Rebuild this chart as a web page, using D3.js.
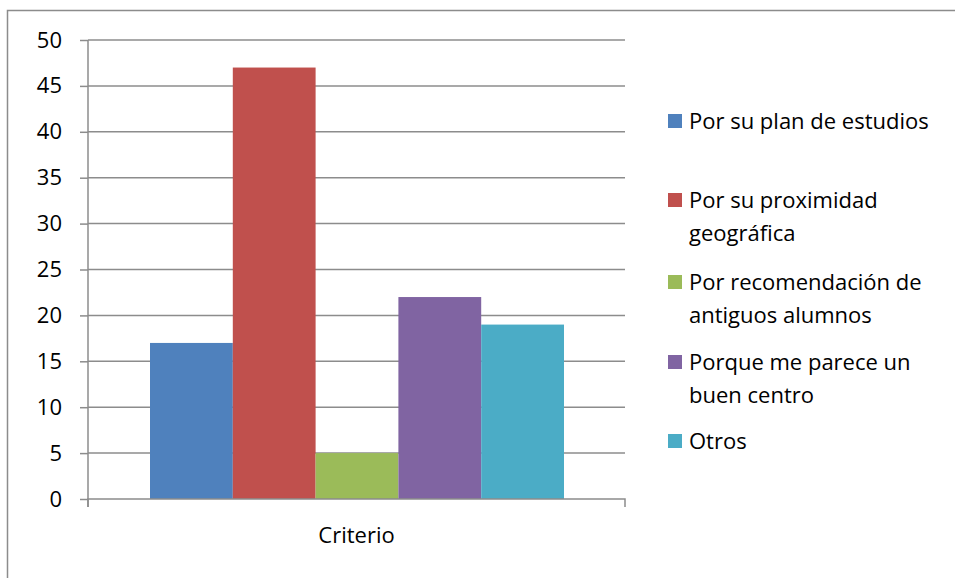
<!DOCTYPE html>
<html>
<head>
<meta charset="utf-8">
<script src="https://cdn.jsdelivr.net/npm/d3@7"></script>
<style>
  body { margin: 0; background: #fff; }
  text { font-family: "Open Sans", "Noto Sans", sans-serif; fill: #000; }
</style>
</head>
<body>
<div id="vis-container"></div>
<script>
// data
let categories = ["Por su plan de estudios", "Por su proximidad geográfica",
  "Por recomendación de antiguos alumnos", "Porque me parece un buen centro", "Otros"];
let values = [17, 47, 5, 22, 19];
let legendLines = [["Por su plan de estudios"], ["Por su proximidad", "geográfica"],
  ["Por recomendación de", "antiguos alumnos"], ["Porque me parece un", "buen centro"], ["Otros"]];
let colors = ["#4f81bd", "#c0504d", "#9bbb59", "#8064a2", "#4bacc6"];
let yTicks = [0, 5, 10, 15, 20, 25, 30, 35, 40, 45, 50];
let groupLabel = ["Criterio"];

let w = 955;
let h = 578;

let svg = d3.select("#vis-container")
  .append("svg")
  .attr("width", w)
  .attr("height", h);

// outer frame
svg.append("rect")
  .attr("x", 7.5).attr("y", 10.5)
  .attr("width", 960).attr("height", 600)
  .attr("fill", "none")
  .attr("stroke", "#8c8c8c")
  .attr("stroke-width", 1.5);

let plotL = 88, plotR = 625, plotT = 40, plotB = 499;

let y = d3.scaleLinear()
  .domain([0, 50])
  .range([plotB, plotT]);

let x0 = d3.scaleBand()
  .domain(groupLabel)
  .range([plotL, plotR]);

let x = d3.scaleBand()
  .domain(categories)
  .range([x0("Criterio") + 62, x0("Criterio") + x0.bandwidth() - 61])
  .padding(0);

// gridlines
svg.selectAll(".grid")
  .data(yTicks.filter(d => d > 0))
  .enter()
  .append("line")
  .attr("x1", plotL).attr("x2", plotR)
  .attr("y1", d => y(d)).attr("y2", d => y(d))
  .attr("stroke", "#8c8c8c")
  .attr("stroke-width", 1.5);

// bars
svg.selectAll(".bar")
  .data(values)
  .enter()
  .append("rect")
  .attr("x", (d, i) => x(categories[i]))
  .attr("y", d => y(d))
  .attr("width", x.bandwidth())
  .attr("height", d => plotB - y(d))
  .attr("fill", (d, i) => colors[i]);

// y axis
let yAxis = svg.append("g")
  .attr("transform", `translate(${plotL},0)`)
  .call(d3.axisLeft(y).tickValues(yTicks).tickSize(8).tickPadding(18));
yAxis.selectAll("line, path").attr("stroke", "#8c8c8c").attr("stroke-width", 1.5);
yAxis.select("path").attr("d", `M0,${plotT}V${plotB + 8}`);
yAxis.selectAll("text")
  .style("font-family", "'Open Sans', sans-serif")
  .attr("font-size", 22)
  .attr("fill", "#000");

// x axis
let xAxis = svg.append("g")
  .attr("transform", `translate(0,${plotB})`)
  .call(d3.axisBottom(x0).tickSize(0).tickPadding(28));
xAxis.select("path").attr("d", `M${plotL},8V0H${plotR}V8`)
  .attr("stroke", "#8c8c8c").attr("stroke-width", 1.5).attr("fill", "none");
xAxis.selectAll("text")
  .style("font-family", "'Open Sans', sans-serif")
  .attr("font-size", 22)
  .attr("fill", "#000");

// legend
let legendY = [121, 200, 282, 362, 441];
let lg = svg.selectAll(".legend")
  .data(legendLines)
  .enter()
  .append("g")
  .attr("transform", (d, i) => `translate(668,${legendY[i]})`);

lg.append("rect")
  .attr("x", 0).attr("y", -7)
  .attr("width", 14).attr("height", 14)
  .attr("fill", (d, i) => colors[i]);

lg.selectAll("text")
  .data(d => d)
  .enter()
  .append("text")
  .attr("x", 21)
  .attr("y", (d, j) => j * 33 + 8)
  .attr("font-size", 22)
  .text(d => d);
</script>
</body>
</html>
